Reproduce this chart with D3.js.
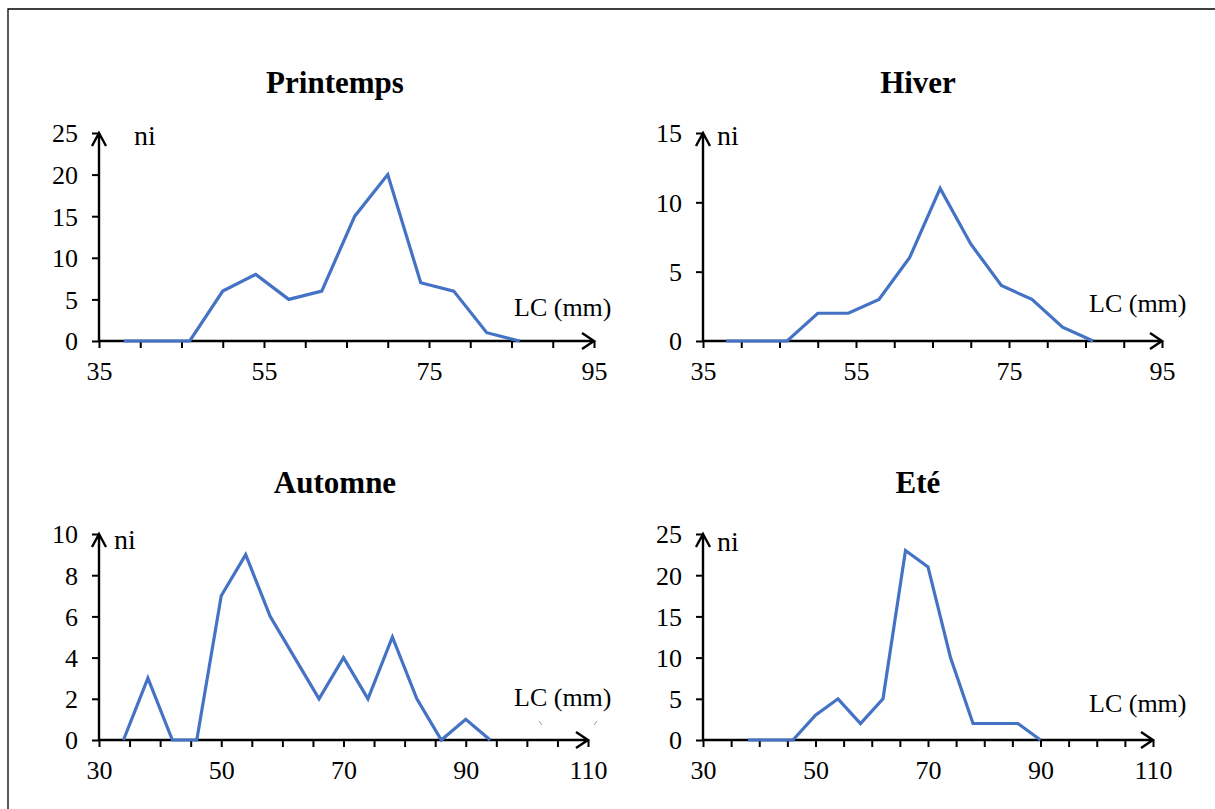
<!DOCTYPE html>
<html>
<head>
<meta charset="utf-8">
<script src="https://cdn.jsdelivr.net/npm/d3@7"></script>
<style>
  body { margin: 0; background: #fff; }
  svg { display: block; }
  svg text { font-family: "Liberation Serif", "Times New Roman", serif; fill: #000; }
</style>
</head>
<body>
<svg width="1215" height="809"></svg>
<script>
// LC (mm) class centres and counts (ni) per season
var lcPrintemps = [38, 42, 46, 50, 54, 58, 62, 66, 70, 74, 78, 82, 86],
    niPrintemps = [0, 0, 0, 6, 8, 5, 6, 15, 20, 7, 6, 1, 0];
var lcHiver = [38, 42, 46, 50, 54, 58, 62, 66, 70, 74, 78, 82, 86],
    niHiver = [0, 0, 0, 2, 2, 3, 6, 11, 7, 4, 3, 1, 0];
var lcAutomne = [34, 38, 42, 46, 50, 54, 58, 62, 66, 70, 74, 78, 82, 86, 90, 94],
    niAutomne = [0, 3, 0, 0, 7, 9, 6, 4, 2, 4, 2, 5, 2, 0, 1, 0];
var lcEte = [38, 42, 46, 50, 54, 58, 62, 66, 70, 74, 78, 82, 86, 90],
    niEte = [0, 0, 0, 3, 5, 2, 5, 23, 21, 10, 2, 2, 2, 0];

var titles = ["Printemps", "Hiver", "Automne", "Eté"];
var xLabelsTop = [35, 55, 75, 95],
    xLabelsBottom = [30, 50, 70, 90, 110];

var svg = d3.select("svg");

svg.append("path")
    .attr("d", "M8,820 L8,9 L1230,9")
    .attr("fill", "none")
    .attr("stroke", "#000")
    .attr("stroke-width", 1.3);

var panels = [
    {title: titles[0], lc: lcPrintemps, ni: niPrintemps, xd: [35, 95], xr: [99, 594], yd: [0, 25], yr: [341, 133], ystep: 5, labels: xLabelsTop, tx: 335, ty: 83, niX: 134, niY: 137, lcX: 514, lcY: 307},
    {title: titles[1], lc: lcHiver, ni: niHiver, xd: [35, 95], xr: [703, 1162], yd: [0, 15], yr: [341, 133], ystep: 5, labels: xLabelsTop, tx: 918, ty: 83, niX: 717, niY: 137, lcX: 1089, lcY: 303},
    {title: titles[2], lc: lcAutomne, ni: niAutomne, xd: [30, 110], xr: [99, 588], yd: [0, 10], yr: [740, 534], ystep: 2, labels: xLabelsBottom, tx: 335, ty: 483, niX: 114, niY: 541, lcX: 514, lcY: 697},
    {title: titles[3], lc: lcEte, ni: niEte, xd: [30, 110], xr: [703, 1153], yd: [0, 25], yr: [740, 534], ystep: 5, labels: xLabelsBottom, tx: 918, ty: 483, niX: 717, niY: 543, lcX: 1089, lcY: 703}
];

panels.forEach(function(p) {
    var x = d3.scaleLinear().domain(p.xd).range(p.xr),
        y = d3.scaleLinear().domain(p.yd).range(p.yr);
    var g = svg.append("g");

    g.append("text")
        .attr("x", p.tx).attr("y", p.ty + 10)
        .attr("text-anchor", "middle")
        .style("font-size", "31px")
        .style("font-weight", "bold")
        .text(p.title);

    // x axis
    var xAxis = d3.axisBottom(x)
        .tickValues(d3.range(p.xd[0], p.xd[1] + 0.1, 5))
        .tickSize(7)
        .tickPadding(14)
        .tickFormat(function(d) { return p.labels.indexOf(d) >= 0 ? d : ""; });
    var gx = g.append("g").attr("transform", "translate(0," + y(0) + ")").call(xAxis);
    gx.select(".domain").remove();

    // y axis
    var yAxis = d3.axisLeft(y)
        .tickValues(d3.range(p.yd[0], p.yd[1] + 0.1, p.ystep))
        .tickSize(7)
        .tickPadding(14);
    var gy = g.append("g").attr("transform", "translate(" + x(p.xd[0]) + ",0)").call(yAxis);
    gy.select(".domain").remove();

    [gx, gy].forEach(function(a) {
        a.attr("font-family", null).attr("font-size", null);
        a.selectAll("line").attr("stroke", "#000").attr("stroke-width", 2);
        a.selectAll("text").style("font-size", "26px").attr("fill", "#000");
    });
    gy.selectAll(".tick text").attr("dy", "0.34em");

    var x0 = x(p.xd[0]), x1 = x(p.xd[1]), y0 = y(0), y1 = y(p.yd[1]);
    g.append("path")
        .attr("d", "M" + x0 + "," + y0 + "H" + x1 + "M" + (x1 - 12) + "," + (y0 - 8) + "L" + x1 + "," + y0 + "L" + (x1 - 12) + "," + (y0 + 8))
        .attr("fill", "none").attr("stroke", "#000").attr("stroke-width", 2.4);
    g.append("path")
        .attr("d", "M" + x0 + "," + y0 + "V" + y1 + "M" + (x0 - 7) + "," + (y1 + 13) + "L" + x0 + "," + y1 + "L" + (x0 + 7) + "," + (y1 + 13))
        .attr("fill", "none").attr("stroke", "#000").attr("stroke-width", 2.4);

    var line = d3.line()
        .x(function(d, i) { return x(p.lc[i]); })
        .y(function(d) { return y(d); });
    g.append("path")
        .datum(p.ni)
        .attr("d", line)
        .attr("fill", "none")
        .attr("stroke", "#4472C4")
        .attr("stroke-width", 3.2)
        .attr("stroke-linejoin", "miter");

    g.append("text")
        .attr("x", p.niX).attr("y", p.niY)
        .attr("dy", "0.3em")
        .style("font-size", "28px")
        .text("ni");
    g.append("text")
        .attr("x", p.lcX).attr("y", p.lcY)
        .attr("dy", "0.35em")
        .style("font-size", "26px")
        .text("LC (mm)");
});

// small stray marks near the Automne axis label
svg.append("path")
    .attr("d", "M539,721 L542,725 M597,721 L594,725")
    .attr("stroke", "#999").attr("stroke-width", 1);
</script>
</body>
</html>
